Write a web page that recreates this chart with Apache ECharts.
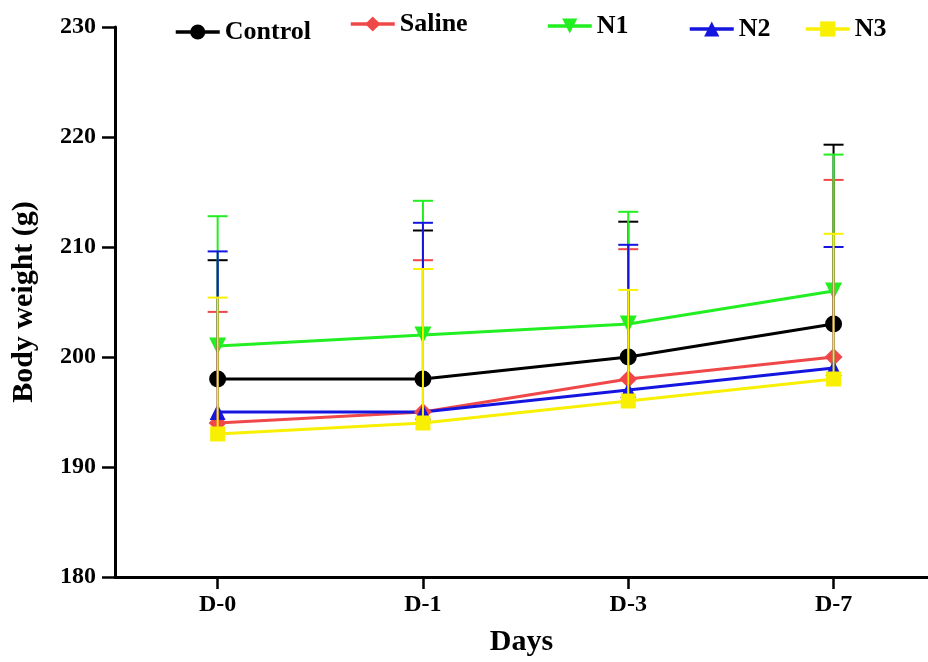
<!DOCTYPE html>
<html>
<head>
<meta charset="utf-8">
<script src="https://cdn.jsdelivr.net/npm/echarts@6/dist/echarts.min.js"></script>
<style>
  html, body { margin: 0; padding: 0; background: #fff; }
  #chart { width: 928px; height: 662px; }
</style>
</head>
<body>
<div id="chart"></div>
<script>
// Body weight over days, mean + upper error bar per group
var days = ['D-0', 'D-1', 'D-3', 'D-7'];
var groups = ['Control', 'Saline', 'N1', 'N2', 'N3'];

var controlMean = [198, 198, 200, 203];
var salineMean = [194, 195, 198, 200];
var n1Mean = [201, 202, 203, 206];
var n2Mean = [195, 195, 197, 199];
var n3Mean = [193, 194, 196, 198];

// top of the error bar (mean + SD)
var controlTop = [208.8, 211.5, 212.3, 219.3];
var salineTop = [204.1, 208.8, 209.8, 216.1];
var n1Top = [212.8, 214.2, 213.2, 218.4];
var n2Top = [209.6, 212.2, 210.2, 210.0];
var n3Top = [205.4, 208.0, 206.1, 211.2];

var yTicks = [180, 190, 200, 210, 220, 230];

var means = [controlMean, salineMean, n1Mean, n2Mean, n3Mean];
var tops = [controlTop, salineTop, n1Top, n2Top, n3Top];
var colors = ['#000000', '#f04848', '#22ee22', '#1515e0', '#f8f000'];
var symbols = ['circle', 'diamond', 'path://M0,0 L10,0 L5,10 Z', 'triangle', 'rect'];
var symbolSizes = [17, 18, 17, 16, 15];

var font = 'Liberation Serif';

function errorRender(color) {
    return function(params, api) {
        var x = api.value(0);
        var base = api.coord([x, api.value(1)]);
        var top = api.coord([x, api.value(2)]);
        var st = { stroke: color, lineWidth: 2 };
        return {
            type: 'group',
            children: [
                { type: 'line', shape: { x1: top[0], y1: top[1], x2: base[0], y2: base[1] }, style: st },
                { type: 'line', shape: { x1: top[0] - 10, y1: top[1], x2: top[0] + 10, y2: top[1] }, style: st }
            ]
        };
    };
}

var series = [];
groups.forEach(function(g, i) {
    series.push({
        name: g,
        type: 'line',
        data: means[i].map(function(v, k) { return [k, v]; }),
        symbol: symbols[i],
        symbolSize: symbolSizes[i],
        symbolKeepAspect: true,
        showAllSymbol: true,
        lineStyle: { color: colors[i], width: 3 },
        itemStyle: { color: colors[i] },
        z: 2
    });
});
groups.forEach(function(g, i) {
    series.push({
        name: g + ' err',
        type: 'custom',
        renderItem: errorRender(colors[i]),
        data: means[i].map(function(v, k) { return [k, v, tops[i][k]]; }),
        z: 3 + i,
        silent: true
    });
});

// legend items are spread unevenly in the picture
var legendPos = [
    { left: 169, top: 14 },
    { left: 344, top: 6 },
    { left: 541, top: 8 },
    { left: 683, top: 11 },
    { left: 799, top: 11 }
];
var legends = groups.map(function(g, i) {
    return {
        data: [g],
        left: legendPos[i].left,
        top: legendPos[i].top,
        itemWidth: 44,
        itemHeight: 19,
        itemGap: 6,
        lineStyle: { width: 3.5 },
        textStyle: { fontFamily: font, fontWeight: 'bold', fontSize: 26, color: '#000' }
    };
});

var chart = echarts.init(document.getElementById('chart'), null, { renderer: 'canvas' });
chart.setOption({
    animation: false,
    backgroundColor: '#fff',
    legend: legends,
    grid: { left: 115, right: 0, top: 27, bottom: 79, containLabel: false },
    xAxis: {
        type: 'value',
        min: -0.5,
        max: 3.46,
        name: 'Days',
        nameLocation: 'middle',
        nameGap: 50,
        nameTextStyle: { fontFamily: font, fontWeight: 'bold', fontSize: 30, color: '#000' },
        splitLine: { show: false },
        axisLine: { onZero: false, lineStyle: { color: '#000', width: 3 } },
        axisTick: { customValues: [0, 1, 2, 3], length: 12, lineStyle: { color: '#000', width: 2.5 } },
        axisLabel: {
            customValues: [0, 1, 2, 3],
            margin: 16,
            fontFamily: font, fontWeight: 'bold', fontSize: 24, color: '#000',
            formatter: function(v) { return days[Math.round(v)]; }
        }
    },
    yAxis: {
        type: 'value',
        min: yTicks[0],
        max: yTicks[yTicks.length - 1],
        interval: 10,
        name: 'Body weight (g)',
        nameLocation: 'middle',
        nameGap: 76,
        nameTextStyle: { fontFamily: font, fontWeight: 'bold', fontSize: 30, color: '#000' },
        splitLine: { show: false },
        axisLine: { show: true, onZero: false, lineStyle: { color: '#000', width: 3 } },
        axisTick: { show: true, length: 13, lineStyle: { color: '#000', width: 2.5 } },
        axisLabel: { margin: 19, fontFamily: font, fontWeight: 'bold', fontSize: 24, color: '#000' }
    },
    series: series
});
</script>
</body>
</html>
